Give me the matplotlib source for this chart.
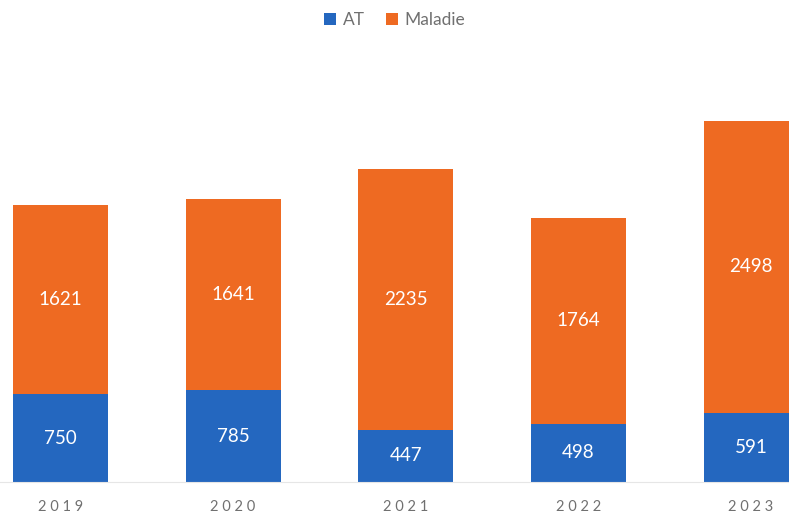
import matplotlib
matplotlib.use("Agg")
import matplotlib.pyplot as plt
import numpy as np

years = ["2019", "2020", "2021", "2022", "2023"]
at_values = [750, 785, 447, 498, 591]
maladie_values = [1621, 1641, 2235, 1764, 2498]
series_names = ["AT", "Maladie"]

blue = "#2467BF"
orange = "#EE6A22"

plt.rcParams['font.family'] = ['Lato', 'DejaVu Sans']

fig = plt.figure(figsize=(7.89, 5.15), dpi=100)
ax = fig.add_axes([0.0, (515 - 482) / 515, 1.0, 409 / 515])

x = np.arange(len(years))
w = 0.55
b1 = ax.bar(x, at_values, w, color=blue, label=series_names[0])
b2 = ax.bar(x, maladie_values, w, bottom=at_values, color=orange, label=series_names[1])

for i in range(len(years)):
    ax.text(x[i], at_values[i] / 2, str(at_values[i]), ha='center', va='center',
            color='white', fontsize=13.5)
    ax.text(x[i], at_values[i] + maladie_values[i] / 2, str(maladie_values[i]),
            ha='center', va='center', color='white', fontsize=13.5)

ax.set_xlim(-0.35, 4.22)
ax.set_ylim(0, 3500)
ax.set_yticks([])
ax.set_xticks(x)
ax.set_xticklabels([" ".join(y) for y in years], color='#707070', fontsize=10.5)
ax.tick_params(axis='x', length=0, pad=13)
for s in ['top', 'right', 'left']:
    ax.spines[s].set_visible(False)
ax.spines['bottom'].set_color('#E6E6E6')
ax.spines['bottom'].set_linewidth(0.8)

fig.legend(handles=[b1, b2], labels=series_names, loc='center', bbox_to_anchor=(0.5, 1 - 20 / 515),
           ncol=2, frameon=False, handlelength=0.7, handleheight=0.7, handletextpad=0.4,
           columnspacing=1.2, fontsize=12.5, labelcolor='#707070')

fig.savefig("out.png", dpi=100)
